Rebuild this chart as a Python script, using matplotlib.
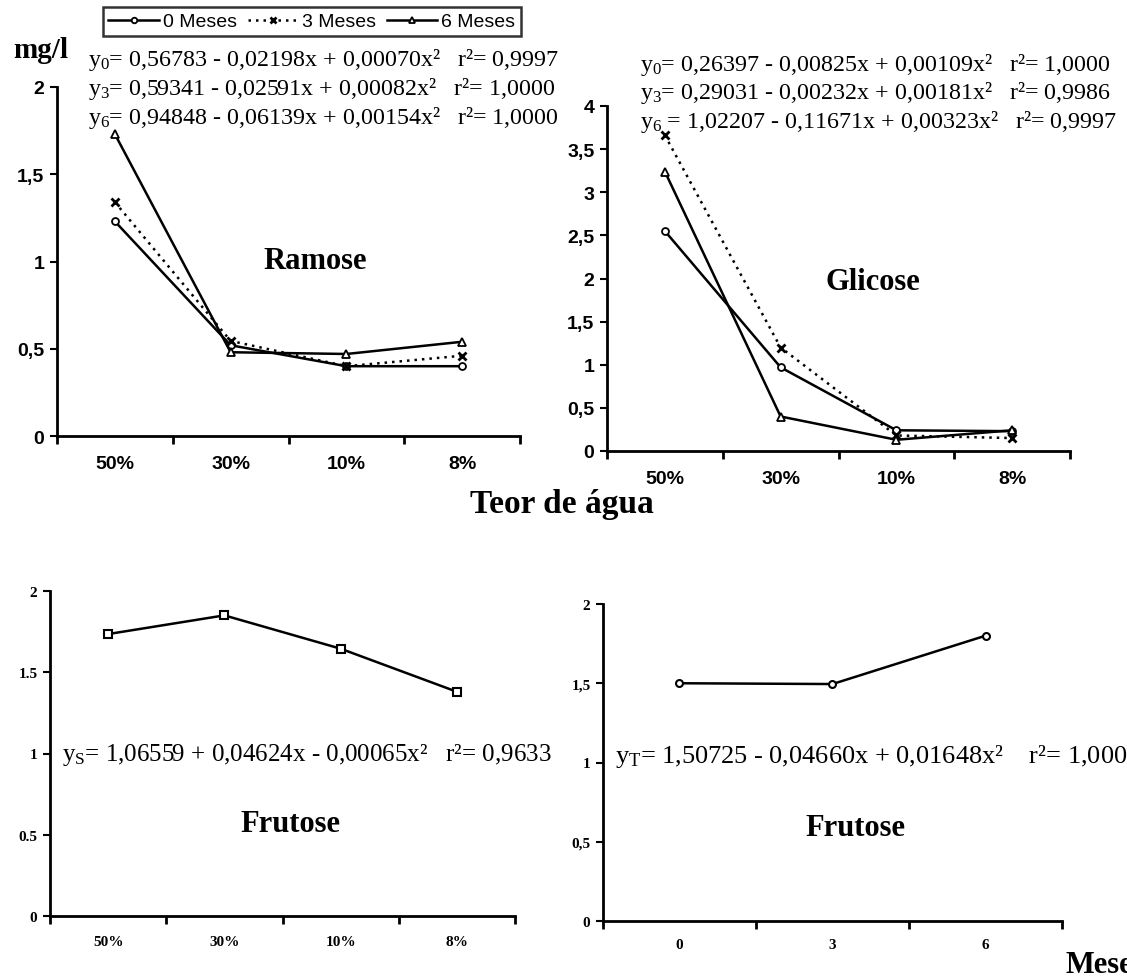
import matplotlib
matplotlib.use("Agg")
import matplotlib.pyplot as plt
from matplotlib.ticker import FixedLocator

plt.rcParams['mathtext.fontset'] = 'custom'
plt.rcParams['mathtext.rm'] = 'Liberation Serif'
plt.rcParams['mathtext.it'] = 'Liberation Serif'

# ---------------- data ----------------
teor = ["50%", "30%", "10%", "8%"]
meses = ["0", "3", "6"]
series_names = ["0 Meses", "3 Meses", "6 Meses"]

ramose_0 = [1.23, 0.52, 0.40, 0.40]
ramose_3 = [1.34, 0.545, 0.40, 0.46]
ramose_6 = [1.73, 0.48, 0.47, 0.54]

glicose_0 = [2.55, 0.97, 0.24, 0.23]
glicose_3 = [3.66, 1.20, 0.18, 0.15]
glicose_6 = [3.24, 0.40, 0.13, 0.24]

frutose_teor = [1.735, 1.85, 1.645, 1.38]
frutose_meses = [1.50, 1.495, 1.80]

ramose_ticks = [0, 0.5, 1, 1.5, 2]
ramose_ticklabels = ["0", "0,5", "1", "1,5", "2"]
glicose_ticks = [0, 0.5, 1, 1.5, 2, 2.5, 3, 3.5, 4]
glicose_ticklabels = ["0", "0,5", "1", "1,5", "2", "2,5", "3", "3,5", "4"]
frut1_ticklabels = ["0", "0.5", "1", "1.5", "2"]
frut2_ticklabels = ["0", "0,5", "1", "1,5", "2"]

eq_ramose = [r"$y_0$= 0,56783 - 0,02198x + 0,00070x²   r²= 0,9997",
             r"$y_3$= 0,59341 - 0,02591x + 0,00082x²   r²= 1,0000",
             r"$y_6$= 0,94848 - 0,06139x + 0,00154x²   r²= 1,0000"]
eq_glicose = [r"$y_0$= 0,26397 - 0,00825x + 0,00109x²   r²= 1,0000",
              r"$y_3$= 0,29031 - 0,00232x + 0,00181x²   r²= 0,9986",
              r"$y_6$ = 1,02207 - 0,11671x + 0,00323x²   r²= 0,9997"]
eq_frut1 = r"$y_S$= 1,06559 + 0,04624x - 0,00065x²   r²= 0,9633"
eq_frut2 = r"$y_T$= 1,50725 - 0,04660x + 0,01648x²    r²= 1,0000"

# ---------------- figure ----------------
W, H = 1127, 979
fig = plt.figure(figsize=(W / 100, H / 100), dpi=100)

def ax_px(x0, x1, y0, y1):
    return fig.add_axes([x0 / W, 1 - y0 / H, (x1 - x0) / W, (y0 - y1) / H])

def fx(x):
    return x / W

def fy(y):
    return 1 - y / H

SANS = ['Liberation Sans Narrow', 'Liberation Sans', 'DejaVu Sans']
SERIF = ['Liberation Serif', 'DejaVu Serif']

def style_axes(ax, ncat, yticks, ylabels, ymax, tickfont, tsize, xlabels, xpad):
    ax.set_xlim(-0.5, ncat - 0.5)
    ax.set_ylim(0, ymax)
    for s in ['top', 'right']:
        ax.spines[s].set_visible(False)
    for s in ['left', 'bottom']:
        ax.spines[s].set_linewidth(2)
    ax.set_facecolor('none')
    ax.xaxis.set_major_locator(FixedLocator([i - 0.5 for i in range(ncat + 1)]))
    ax.set_xticklabels([])
    ax.xaxis.set_minor_locator(FixedLocator(list(range(ncat))))
    ax.set_xticklabels(xlabels, minor=True, family=tickfont, weight='bold', fontsize=tsize)
    ax.tick_params(axis='x', which='minor', length=0, pad=xpad)
    ax.tick_params(axis='x', which='major', length=6, width=2, direction='out')
    ax.set_yticks(yticks)
    ax.set_yticklabels(ylabels, family=tickfont, weight='bold', fontsize=tsize)
    ax.tick_params(axis='y', length=5, width=1.5, direction='out', pad=4)

line_kw = [dict(ls='-', marker='o', ms=5, mfc='white', mec='black', mew=1.3),
           dict(ls=(0, (1, 2)), marker='x', ms=6, mec='black', mew=2),
           dict(ls='-', marker='^', ms=6, mfc='white', mec='black', mew=1.3)]

# Ramose
ax1 = ax_px(57, 520, 437, 88)
style_axes(ax1, 4, ramose_ticks, ramose_ticklabels, 2, SANS, 14, teor, 14)
handles = []
for vals, kw, name in zip([ramose_0, ramose_3, ramose_6], line_kw, series_names):
    h, = ax1.plot(range(4), vals, color='black', lw=1.8, label=name, **kw)
    handles.append(h)

# Glicose
ax2 = ax_px(607, 1070, 452, 107)
style_axes(ax2, 4, glicose_ticks, glicose_ticklabels, 4, SANS, 14, teor, 14)
for vals, kw in zip([glicose_0, glicose_3, glicose_6], line_kw):
    ax2.plot(range(4), vals, color='black', lw=1.8, **kw)

# Frutose vs teor
ax3 = ax_px(50, 515, 917, 592)
style_axes(ax3, 4, ramose_ticks, frut1_ticklabels, 2, SERIF, 11, teor, 14)
ax3.plot(range(4), frutose_teor, color='black', lw=1.8, marker='s', ms=6,
         mfc='white', mec='black', mew=1.5)

# Frutose vs meses
ax4 = ax_px(603, 1062, 922, 605)
style_axes(ax4, 3, ramose_ticks, frut2_ticklabels, 2, SERIF, 11, meses, 12)
ax4.plot(range(3), frutose_meses, color='black', lw=1.8, marker='o', ms=5,
         mfc='white', mec='black', mew=1.5)

# legend
leg = fig.legend(handles=handles, loc='upper right', bbox_to_anchor=(fx(521), fy(8)),
                 ncol=3, frameon=True, fancybox=False, edgecolor='black',
                 prop=dict(family=SANS, size=14), handlelength=2.6,
                 handletextpad=0.2, columnspacing=0.55, borderpad=0.3,
                 borderaxespad=0, markerscale=0.8)
leg.get_frame().set_linewidth(1.8)

# texts
eqsize = 17.3
for i, s in enumerate(eq_ramose):
    fig.text(fx(88), fy(60 + 29 * i), s, family=SERIF, fontsize=eqsize, va='center')
for i, s in enumerate(eq_glicose):
    fig.text(fx(640), fy(65 + 28.5 * i), s, family=SERIF, fontsize=eqsize, va='center')
fig.text(fx(62), fy(755), eq_frut1, family=SERIF, fontsize=18, va='center')
fig.text(fx(615), fy(757), eq_frut2, family=SERIF, fontsize=19, va='center')

fig.text(fx(41), fy(50), "mg/l", family=SERIF, weight='bold', fontsize=21,
         ha='center', va='center')
fig.text(fx(315), fy(262), "Ramose", family=SERIF, weight='bold', fontsize=22,
         ha='center', va='center')
fig.text(fx(873), fy(283), "Glicose", family=SERIF, weight='bold', fontsize=22,
         ha='center', va='center')
fig.text(fx(290), fy(824), "Frutose", family=SERIF, weight='bold', fontsize=22,
         ha='center', va='center')
fig.text(fx(855), fy(828), "Frutose", family=SERIF, weight='bold', fontsize=22,
         ha='center', va='center')
fig.text(fx(562), fy(504), "Teor de água", family=SERIF, weight='bold', fontsize=24,
         ha='center', va='center')
fig.text(fx(1066), fy(966), "Meses", family=SERIF, weight='bold', fontsize=22,
         ha='left', va='center')

fig.savefig("out.png", dpi=100)
